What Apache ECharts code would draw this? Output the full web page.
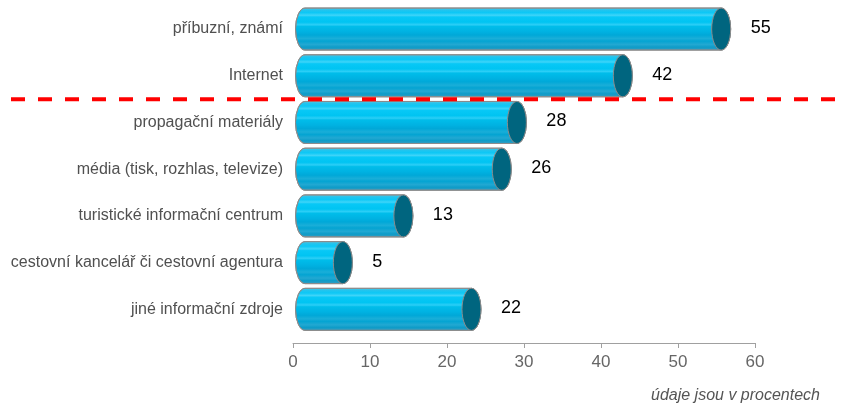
<!DOCTYPE html>
<html>
<head>
<meta charset="utf-8">
<script src="https://cdn.jsdelivr.net/npm/echarts@6/dist/echarts.min.js"></script>
<style>
html,body{margin:0;padding:0;background:#fff;}
#chart{width:846px;height:405px;}
</style>
</head>
<body>
<div id="chart"></div>
<script>
// ---- data ----
const categories = [
  'příbuzní, známí',
  'Internet',
  'propagační materiály',
  'média (tisk, rozhlas, televize)',
  'turistické informační centrum',
  'cestovní kancelář či cestovní agentura',
  'jiné informační zdroje'
];
const values = [55, 42, 28, 26, 13, 5, 22];
const axisTicks = [0, 10, 20, 30, 40, 50, 60];
const noteText = 'údaje jsou v procentech';
const separatorAfter = 1; // red dashed line drawn below this category index

// ---- chart ----
const chart = echarts.init(document.getElementById('chart'), null, {renderer: 'canvas'});
const FONT = '"Liberation Sans", Arial, sans-serif';

const bodyGradient = new echarts.graphic.LinearGradient(0, 0, 0, 1, [
  {offset: 0.00, color: '#5cc6e2'},
  {offset: 0.06, color: '#22c4ee'},
  {offset: 0.12, color: '#0cc8f6'},
  {offset: 0.18, color: '#3fd4f8'},
  {offset: 0.22, color: '#08c8f6'},
  {offset: 0.34, color: '#00c4f2'},
  {offset: 0.40, color: '#2ccef6'},
  {offset: 0.44, color: '#00bdea'},
  {offset: 0.56, color: '#00b2e2'},
  {offset: 0.64, color: '#00a8d8'},
  {offset: 0.72, color: '#1aaed8'},
  {offset: 0.78, color: '#04a4d2'},
  {offset: 0.86, color: '#22a8d2'},
  {offset: 0.92, color: '#0d9cc8'},
  {offset: 1.00, color: '#3a9cc0'}
]);

function renderCylinder(params, api) {
  const idx = api.value(0);
  const v = api.value(1);
  const p0 = api.coord([0, idx]);
  const p1 = api.coord([v, idx]);
  const band = api.size([0, 1])[1];
  const h = band * 0.9;
  const ry = h / 2;
  const rx = 9.5;
  const x0 = p0[0], x1 = p1[0], yc = p0[1];
  const top = yc - ry, bottom = yc + ry;
  const d = 'M' + x0 + ' ' + top + ' L' + x1 + ' ' + top +
    ' A' + rx + ' ' + ry + ' 0 0 1 ' + x1 + ' ' + bottom +
    ' L' + x0 + ' ' + bottom +
    ' A' + rx + ' ' + ry + ' 0 0 1 ' + x0 + ' ' + top + ' Z';
  return {
    type: 'group',
    children: [
      {
        type: 'path',
        shape: {pathData: d},
        style: {fill: bodyGradient, stroke: '#8c8c8c', lineWidth: 1}
      },
      {
        type: 'ellipse',
        shape: {cx: x1, cy: yc, rx: rx, ry: ry},
        style: {fill: '#00657f', stroke: '#8c8c8c', lineWidth: 1}
      },
      {
        type: 'text',
        style: {
          text: String(v),
          x: x1 + rx + 20,
          y: yc - 1,
          fill: '#000',
          font: '18px ' + FONT,
          textAlign: 'left',
          textVerticalAlign: 'middle'
        }
      }
    ]
  };
}

const option = {
  animation: false,
  backgroundColor: '#ffffff',
  grid: [
    // axis grid (front)
    {left: 293, width: 462, top: 300, bottom: 62},
    // bar grid (shifted by 3D depth)
    {left: 305, width: 454, top: 5.7, bottom: 72.3}
  ],
  xAxis: [
    {
      gridIndex: 0, type: 'value', min: axisTicks[0], max: axisTicks[axisTicks.length - 1], interval: 10,
      axisLine: {show: true, lineStyle: {color: '#a0a0a0', width: 1}},
      axisTick: {show: true, length: 5, lineStyle: {color: '#a0a0a0'}},
      splitLine: {show: false},
      axisLabel: {color: '#666', fontSize: 17, fontFamily: FONT, margin: 11}
    },
    {
      gridIndex: 1, type: 'value', min: axisTicks[0], max: axisTicks[axisTicks.length - 1], show: false
    }
  ],
  yAxis: [
    {gridIndex: 0, type: 'value', show: false},
    {
      gridIndex: 1, type: 'category', data: categories, inverse: true,
      axisLine: {show: false}, axisTick: {show: false}, splitLine: {show: false},
      axisLabel: {color: '#505050', fontSize: 16, fontFamily: FONT, margin: 22}
    }
  ],
  series: [{
    type: 'custom',
    xAxisIndex: 1,
    yAxisIndex: 1,
    data: values.map((v, i) => [i, v]),
    encode: {x: 1, y: 0},
    renderItem: renderCylinder,
    clip: false
  }]
};
chart.setOption(option);

// red dashed separator between categories
const yA = chart.convertToPixel({yAxisIndex: 1}, categories[separatorAfter]);
const yB = chart.convertToPixel({yAxisIndex: 1}, categories[separatorAfter + 1]);
const ySep = (yA + yB) / 2;
chart.setOption({
  graphic: [
    {
      type: 'line', z: 100,
      shape: {x1: 11, y1: ySep, x2: 846, y2: ySep},
      style: {stroke: '#ff0000', lineWidth: 4, lineDash: [14, 13]}
    },
    {
      type: 'text', right: 26, top: 388,
      style: {text: noteText, fill: '#555', font: 'italic 16px ' + FONT}
    }
  ]
});
</script>
</body>
</html>
